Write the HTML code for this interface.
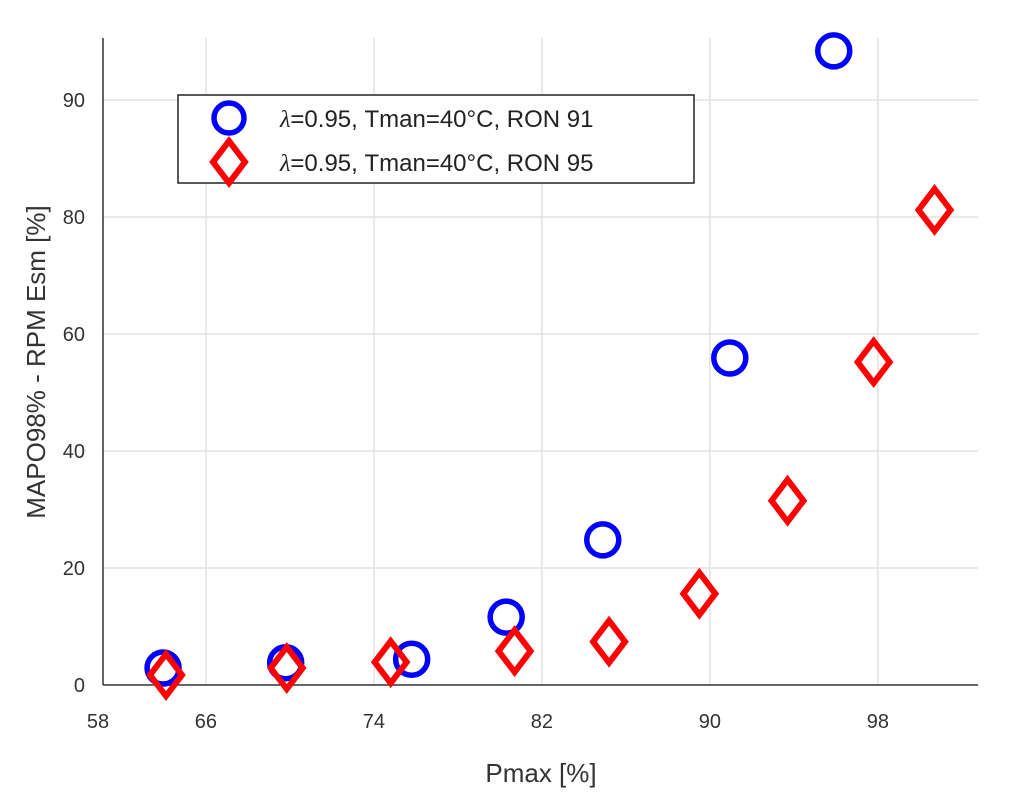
<!DOCTYPE html>
<html><head><meta charset="utf-8"><style>
html,body{margin:0;padding:0;background:#fff;}
svg{display:block;font-family:"Liberation Sans",sans-serif;}
</style></head><body>
<svg id="chart" width="1017" height="806">
<g id="grid"></g>
<g id="axes"></g>
<g id="marks"></g>
<text x="541" y="782" font-size="26" text-anchor="middle" fill="#333">Pmax [%]</text>
<text transform="translate(45,362) rotate(-90)" font-size="26" text-anchor="middle" fill="#333">MAPO98% - RPM Esm [%]</text>
<g>
<rect x="178" y="95" width="516" height="88" fill="#fff" stroke="#222" stroke-width="1.5"/>
<g>
<circle cx="229" cy="118" r="15" fill="none" stroke="#0000ff" stroke-width="5.5"/>
<text x="280" y="127" font-size="24" fill="#222"><tspan font-style="italic" font-family="Liberation Serif">λ</tspan>=0.95, Tman=40°C, RON 91</text>
</g>
<g>
<polygon points="229,141 245,162 229,183 213,162" fill="none" stroke="#ff0000" stroke-width="6"/>
<text x="280" y="171" font-size="24" fill="#222"><tspan font-style="italic" font-family="Liberation Serif">λ</tspan>=0.95, Tman=40°C, RON 95</text>
</g>
</g>
</svg>
<script>
const xTickVals=[61.1,66,74,82,90,98];
const xTickLabels=["58","66","74","82","90","98"];
const yTickVals=[0,20,40,60,80,100];
const yTickLabels=["0","20","40","60","80","90"];
const ron91X=[63.96,69.8,75.8,80.3,84.9,90.95,95.9];
const ron91Y=[2.9,3.8,4.4,11.6,24.8,55.9,108.4];
const ron95X=[64.1,69.85,74.8,80.7,85.2,89.5,93.7,97.8,100.7];
const ron95Y=[1.7,2.9,3.9,5.8,7.4,15.6,31.5,55.2,81.2];
const L=103,R=978,T=38,B=685;
const xMin=61.1,xMax=102.77,yMin=0,yMax=110.6;
const sx=v=>L+(v-xMin)/(xMax-xMin)*(R-L);
const sy=v=>B-(v-yMin)/(yMax-yMin)*(B-T);
const NS="http://www.w3.org/2000/svg";
function mk(tag,attrs,parent,txt){const e=document.createElementNS(NS,tag);for(const k in attrs)e.setAttribute(k,attrs[k]);if(txt!==undefined)e.textContent=txt;parent.appendChild(e);return e;}
const grid=document.getElementById('grid'),axes=document.getElementById('axes'),marks=document.getElementById('marks');
xTickVals.forEach((v,i)=>{
  const x=sx(v);
  if(i>0){const g=mk('line',{x1:x,x2:x,y1:T,y2:B,stroke:'#e2e2e2','stroke-width':1.5},grid);
  
  }
  const t=mk('text',{x:i===0?x-5:x,y:B+43,'font-size':20,'text-anchor':'middle',fill:'#333'},axes,xTickLabels[i]);
  
  
});
yTickVals.forEach((v,i)=>{
  const y=sy(v);
  if(i>0){const g=mk('line',{x1:L,x2:R,y1:y,y2:y,stroke:'#e2e2e2','stroke-width':1.5},grid);
  
  }
  const t=mk('text',{x:L-18,y:y+7,'font-size':20,'text-anchor':'end',fill:'#333'},axes,yTickLabels[i]);
  
  
});
const xa=mk('line',{x1:L,x2:R,y1:B,y2:B,stroke:'#333','stroke-width':1.5},axes);


const ya=mk('line',{x1:L,x2:L,y1:T,y2:B,stroke:'#333','stroke-width':1.5},axes);


ron91X.forEach((v,i)=>{
  const c=mk('circle',{cx:sx(v),cy:sy(ron91Y[i]),r:16,fill:'none',stroke:'#0000ff','stroke-width':5.5},marks);
  
  
});
ron95X.forEach((v,i)=>{
  const x=sx(v),y=sy(ron95Y[i]);
  const p=mk('polygon',{points:`${x},${y-21} ${x+16},${y} ${x},${y+21} ${x-16},${y}`,fill:'none',stroke:'#ff0000','stroke-width':6},marks);
  
  
});
</script>
</body></html>
